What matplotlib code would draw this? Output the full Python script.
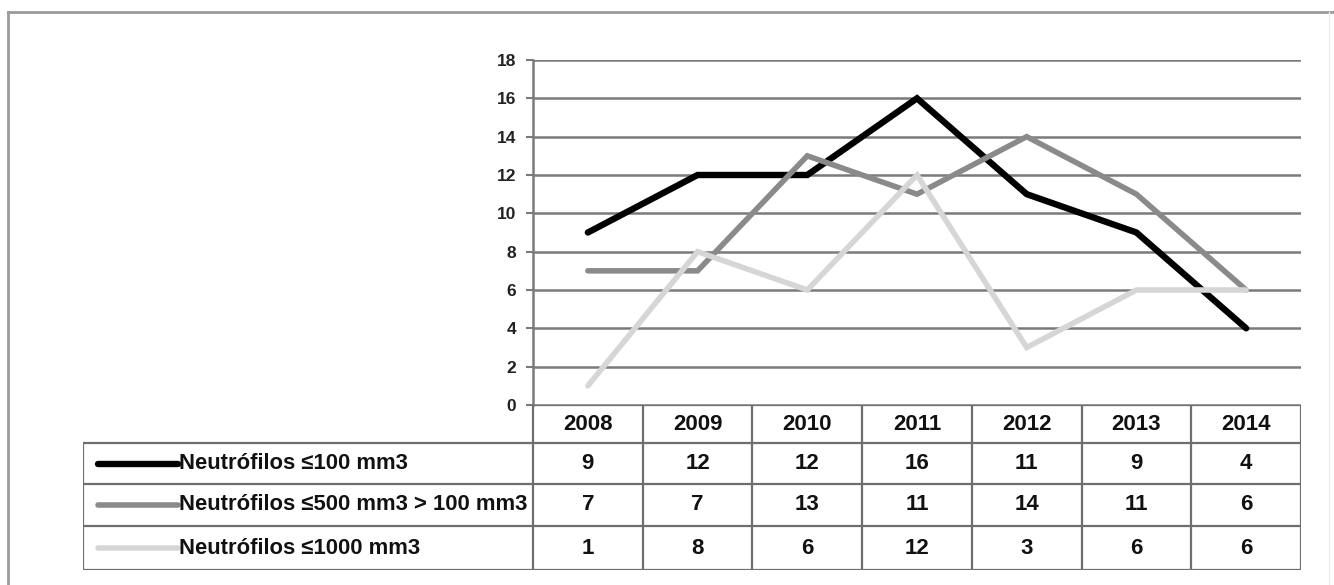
import matplotlib
matplotlib.use("Agg")
import matplotlib.pyplot as plt
from matplotlib.lines import Line2D

years = ["2008", "2009", "2010", "2011", "2012", "2013", "2014"]
series_names = ["Neutrófilos ≤100 mm3",
                "Neutrófilos ≤500 mm3 > 100 mm3",
                "Neutrófilos ≤1000 mm3"]
neut_100 = [9, 12, 12, 16, 11, 9, 4]
neut_500 = [7, 7, 13, 11, 14, 11, 6]
neut_1000 = [1, 8, 6, 12, 3, 6, 6]
y_ticks = [0, 2, 4, 6, 8, 10, 12, 14, 16, 18]

series = [neut_100, neut_500, neut_1000]
colors = ["#000000", "#8a8a8a", "#d6d6d6"]
widths = [4.6, 4.0, 4.0]

W, H = 1334, 585
fig = plt.figure(figsize=(W / 100, H / 100), dpi=100)
fig.patch.set_facecolor("white")
plt.rcParams["font.family"] = ["Liberation Sans", "DejaVu Sans"]

def fx(px):
    return px / W

def fy(py):
    return 1 - py / H

# outer frame
frame_color = "#9a9a9a"
fig.add_artist(Line2D([fx(8), fx(8)], [fy(12), fy(590)], color=frame_color, lw=2.0))
fig.add_artist(Line2D([fx(8), fx(1334)], [fy(12), fy(12)], color=frame_color, lw=2.0))
fig.add_artist(Line2D([fx(1329), fx(1329)], [fy(12), fy(590)], color="#ececec", lw=1.0))

# chart area
x0, x1 = 533, 1301
top, bot = 60, 405
ax = fig.add_axes([fx(x0), fy(bot), fx(x1) - fx(x0), fy(top) - fy(bot)])
ax.set_xlim(0, len(years))
ax.set_ylim(0, 18)
ax.set_yticks(y_ticks)
ax.set_xticks([])
ax.yaxis.grid(True, color="#7a7a7a", lw=1.8)
ax.set_axisbelow(True)
for s in ["top", "right", "bottom"]:
    ax.spines[s].set_visible(False)
ax.spines["left"].set_color("#7a7a7a")
ax.spines["left"].set_linewidth(1.8)
ax.tick_params(axis="y", length=5, width=1.5, color="#7a7a7a", pad=7,
               labelsize=12.5, labelcolor="#222222")
for lab in ax.get_yticklabels():
    lab.set_fontweight("bold")

xs = [i + 0.5 for i in range(len(years))]
for vals, c, lw in zip(series, colors, widths):
    ax.plot(xs, vals, color=c, lw=lw, solid_capstyle="round",
            solid_joinstyle="miter", zorder=3)

# data table under the chart
tx0 = 83
col_w = (x1 - x0) / len(years)
label_w = (x0 - tx0) / col_w
row_edges = [405, 443, 484, 526, 570]
tax = fig.add_axes([fx(tx0), fy(row_edges[-1]), fx(x1) - fx(tx0),
                    fy(row_edges[0]) - fy(row_edges[-1])])
tax.set_xlim(-label_w, len(years))
tax.set_ylim(row_edges[-1], row_edges[0])
tax.axis("off")

grid_c = "#6e6e6e"
glw = 1.6
# horizontal rules
tax.plot([0, len(years)], [row_edges[0], row_edges[0]], color=grid_c, lw=glw)
for yv in row_edges[1:]:
    tax.plot([-label_w, len(years)], [yv, yv], color=grid_c, lw=glw)
# vertical rules
tax.plot([-label_w, -label_w], [row_edges[1], row_edges[-1]], color=grid_c, lw=glw)
for i in range(len(years) + 1):
    tax.plot([i, i], [row_edges[0], row_edges[-1]], color=grid_c, lw=glw)

txt_kw = dict(fontsize=16, fontweight="bold", color="#111111",
              ha="center", va="center")
hy = (row_edges[0] + row_edges[1]) / 2
for i, yr in enumerate(years):
    tax.text(i + 0.5, hy, yr, **txt_kw)

key_x0 = -label_w + 15 / col_w
key_x1 = -label_w + 95 / col_w
for r, (name, vals, c, lw) in enumerate(zip(series_names, series, colors, widths)):
    cy = (row_edges[r + 1] + row_edges[r + 2]) / 2
    tax.plot([key_x0, key_x1], [cy, cy], color=c, lw=lw, solid_capstyle="round")
    tax.text(key_x1 + 1 / col_w, cy, name, fontsize=15.8, fontweight="bold",
             color="#111111", ha="left", va="center")
    for i, v in enumerate(vals):
        tax.text(i + 0.5, cy, str(v), **txt_kw)

fig.savefig("out.png", dpi=100)
